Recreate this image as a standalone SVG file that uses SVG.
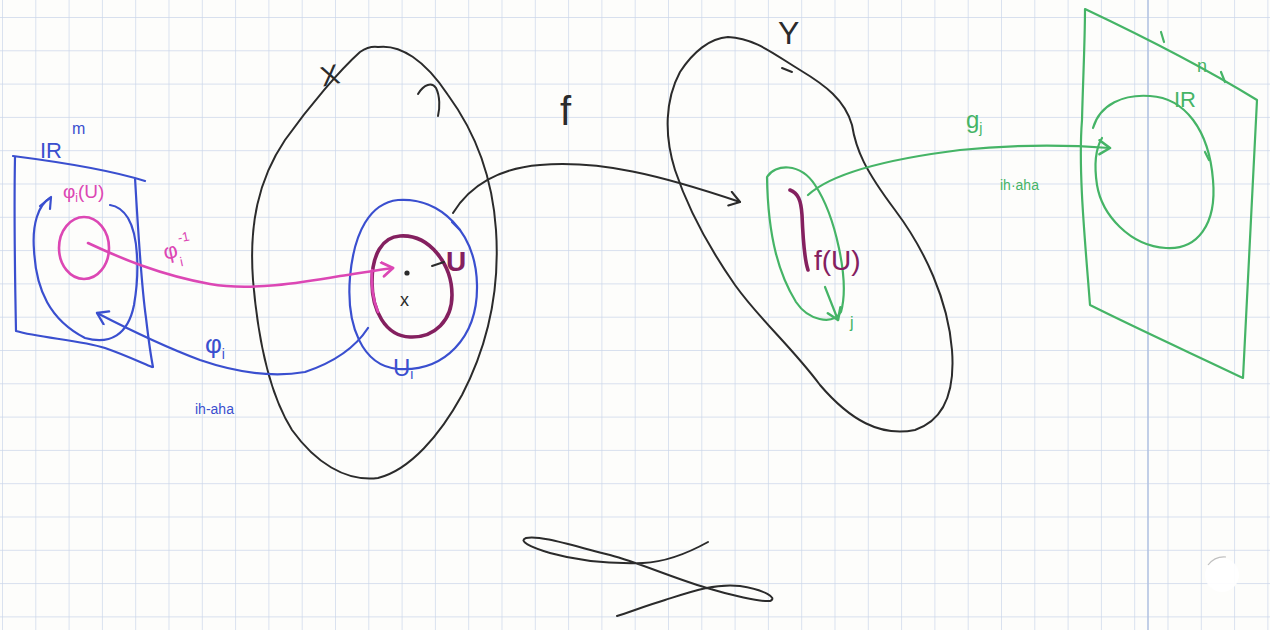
<svg xmlns="http://www.w3.org/2000/svg" width="1270" height="630" viewBox="0 0 1270 630">
<defs>
<pattern id="grid" x="2" y="17" width="33.3" height="33.3" patternUnits="userSpaceOnUse">
<path d="M0,0 H33.3 M0,0 V33.3" stroke="#cbd6ea" stroke-width="1.4" fill="none"/>
</pattern>
<marker id="arBlk" markerUnits="userSpaceOnUse" markerWidth="20" markerHeight="20" refX="13" refY="8" orient="auto" viewBox="0 0 20 20">
<path d="M2,1 L13,8 L3,15" fill="none" stroke="#2b2b2b" stroke-width="2.2" stroke-linecap="round" stroke-linejoin="round"/>
</marker>
<marker id="arPnk" markerUnits="userSpaceOnUse" markerWidth="20" markerHeight="20" refX="13" refY="8" orient="auto" viewBox="0 0 20 20">
<path d="M2,1 L13,8 L3,15" fill="none" stroke="#dc47b4" stroke-width="2.8" stroke-linecap="round" stroke-linejoin="round"/>
</marker>
<marker id="arBlu" markerUnits="userSpaceOnUse" markerWidth="20" markerHeight="20" refX="13" refY="8" orient="auto" viewBox="0 0 20 20">
<path d="M2,1 L13,8 L3,15" fill="none" stroke="#3a4fcf" stroke-width="2.4" stroke-linecap="round" stroke-linejoin="round"/>
</marker>
<marker id="arGrn" markerUnits="userSpaceOnUse" markerWidth="20" markerHeight="20" refX="13" refY="8" orient="auto" viewBox="0 0 20 20">
<path d="M2,1 L13,8 L3,15" fill="none" stroke="#45b466" stroke-width="2.6" stroke-linecap="round" stroke-linejoin="round"/>
</marker>
</defs>
<style>
.blk{fill:none;stroke:#2b2b2b;stroke-width:2;stroke-linecap:round;stroke-linejoin:round}
.blu{fill:none;stroke:#3a4fcf;stroke-width:2.2;stroke-linecap:round;stroke-linejoin:round}
.pnk{fill:none;stroke:#dc47b4;stroke-width:2.6;stroke-linecap:round;stroke-linejoin:round}
.pur{fill:none;stroke:#84205f;stroke-width:3.6;stroke-linecap:round;stroke-linejoin:round}
.grn{fill:none;stroke:#45b466;stroke-width:2.2;stroke-linecap:round;stroke-linejoin:round}
.t{font-family:"Liberation Sans",Arial,sans-serif}
.tb{fill:#3a4fcf}.tp{fill:#dc47b4}.tu{fill:#84205f}.tg{fill:#45b466}.tk{fill:#2b2b2b}
</style>
<rect width="1270" height="630" fill="#fdfdfb"/>
<rect width="1270" height="630" fill="url(#grid)"/>
<line x1="1148" y1="0" x2="1148" y2="630" stroke="#b3c3e3" stroke-width="1.6"/>
<circle cx="1222" cy="575" r="17" fill="#ffffff" opacity="0.9"/>
<path d="M1208,565 Q1215,556 1226,557" fill="none" stroke="#c0c0c0" stroke-width="1.2"/>

<g id="rm-plane">
<path class="blu" d="M13,156 C60,162 110,170 145,181 M15,157 C14,210 15,280 16,331 C40,338 80,340 105,348 C125,355 140,362 152,367 M135,178 C138,230 142,290 146,318 C148,335 150,352 153,367"/>
<path class="blu" d="M50,198 C38,205 32,225 34,250 C36,290 50,320 85,338 C110,345 128,335 134,305 C140,270 138,235 128,218 C123,210 117,206 110,205"/>
<path class="blu" d="M40,206 L51,197 L50,209"/>
<text class="t tb" x="40" y="158" font-size="22">IR</text>
<text class="t tb" x="72" y="134" font-size="16">m</text>
</g>

<g id="phi-U">
<ellipse cx="84" cy="248" rx="25" ry="31" class="pnk"/>
<text class="t tp" x="63" y="198" font-size="19">φ<tspan font-size="12" dy="4">i</tspan><tspan dy="-4">(U)</tspan></text>
</g>

<g id="X-space">
<path class="blk" d="M378,47 C400,44 425,60 448,95 C470,125 492,170 496,230 C500,290 488,345 462,395 C440,435 410,470 378,478 C345,482 315,462 292,430 C270,395 258,340 253,280 C249,225 258,180 285,140 C310,105 340,70 360,52 C366,48 372,46 378,47 Z"/>
<path class="blk" d="M418,94 C424,84 432,82 436,88 C440,96 440,108 438,116"/>
<text class="t tk" x="320" y="84" font-size="28" transform="rotate(-12 334 72)">X</text>
</g>

<g id="Ui">
<path class="blu" d="M398,200 C440,197 476,232 477,285 C478,338 444,372 398,369 C362,366 346,325 350,277 C354,232 370,203 398,200 Z"/>
<path class="blu" d="M452,222 L460,230"/>
<text class="t tb" x="393" y="376" font-size="24">U<tspan font-size="14" dy="3">i</tspan></text>
</g>

<g id="U">
<path class="pur" d="M400,236 C430,234 452,265 452,295 C452,320 435,338 410,337 C385,336 372,310 372,282 C372,255 382,237 400,236 Z"/>
<path class="pnk" d="M372,270 C371,285 373,300 378,312" stroke-width="2"/>
<path class="blk" d="M432,266 L444,262"/>
<circle cx="407" cy="273" r="2.6" fill="#2b2b2b"/>
<text class="t tk" x="400" y="306" font-size="18">x</text>
<text class="t tu" x="446" y="271" font-size="28" font-weight="bold">U</text>
</g>

<g id="Y-space">
<path class="blk" d="M728,37 C755,38 775,55 800,70 C825,85 845,100 852,125 C856,150 865,170 895,210 C925,250 948,300 952,350 C955,390 945,420 915,430 C880,437 850,420 820,385 C790,345 760,320 735,285 C712,252 690,215 675,170 C664,135 665,100 680,72 C693,52 710,38 728,37 Z"/>
<path class="blk" d="M782,68 L792,72"/>
<text class="t tk" x="778" y="44" font-size="32">Y</text>
</g>

<g id="fU">
<path class="grn" d="M767,177 C775,164 800,162 815,185 C835,215 850,280 841,312 C832,326 808,320 796,302 C780,276 768,240 767,177 Z"/>
<path class="pur" d="M790,190 C798,193 801,200 802,215 C803,240 804,258 808,270" stroke-width="3.4"/>
<text class="t tu" x="814" y="270" font-size="28">f(U)</text>
</g>

<g id="rn-plane">
<path class="grn" d="M1085,9 C1140,35 1200,65 1257,100 C1252,190 1248,290 1243,378 C1195,355 1140,330 1090,305 C1085,240 1078,170 1082,120 C1083,80 1085,40 1085,9 Z"/>
<path class="grn" d="M1161,32 L1164,42 M1221,72 L1225,82"/>
<path class="grn" d="M1093,128 C1100,104 1124,94 1150,96 C1185,98 1209,130 1213,180 C1217,225 1197,250 1166,248 C1130,246 1102,215 1097,185 C1094,165 1096,148 1102,138"/>
<path class="grn" d="M1205,152 L1209,160"/>
<text class="t tg" x="1197" y="72" font-size="18">n</text>
<text class="t tg" x="1174" y="107" font-size="22">IR</text>
</g>

<g id="connectors">
<path class="pnk" d="M88,243 C120,258 160,275 210,284 C250,291 300,283 340,276 C360,273 378,270 393,268" marker-end="url(#arPnk)"/>
<text class="t tp" x="162" y="258" font-size="22" transform="rotate(-12 172 245)">φ<tspan font-size="13" dy="10">i</tspan><tspan font-size="13" dy="-24">-1</tspan></text>

<path class="blu" d="M368,328 C355,348 335,362 305,372 C270,378 235,372 200,360 C165,347 130,330 97,313" marker-end="url(#arBlu)"/>
<text class="t tb" x="205" y="353" font-size="26">φ<tspan font-size="14" dy="6">i</tspan></text>
<text class="t tb" x="195" y="414" font-size="14">ih-aha</text>

<path class="blk" d="M453,213 C470,185 500,168 540,165 C600,160 660,175 740,202" marker-end="url(#arBlk)"/>
<text class="t tk" x="560" y="125" font-size="40">f</text>

<path class="grn" d="M808,195 C830,175 880,160 960,150 C1020,144 1070,145 1110,148" marker-end="url(#arGrn)"/>
<text class="t tg" x="966" y="128" font-size="24">g<tspan font-size="14" dy="5">j</tspan></text>
<text class="t tg" x="1000" y="190" font-size="14">ih·aha</text>

<path class="grn" d="M825,287 L838,320" stroke-width="3" marker-end="url(#arGrn)"/>
<text class="t tg" x="850" y="328" font-size="16">j</text>
</g>

<g id="squiggle">
<path class="blk" d="M708,542 C690,552 665,562 643,563 C610,564 575,560 550,553 C530,547 518,541 526,538 C540,535 570,545 610,555 C640,563 670,577 707,588 C730,595 760,602 770,601 C778,598 765,590 740,586 C715,583 690,592 665,600 C645,606 630,612 617,616"/>
</g>
</svg>
